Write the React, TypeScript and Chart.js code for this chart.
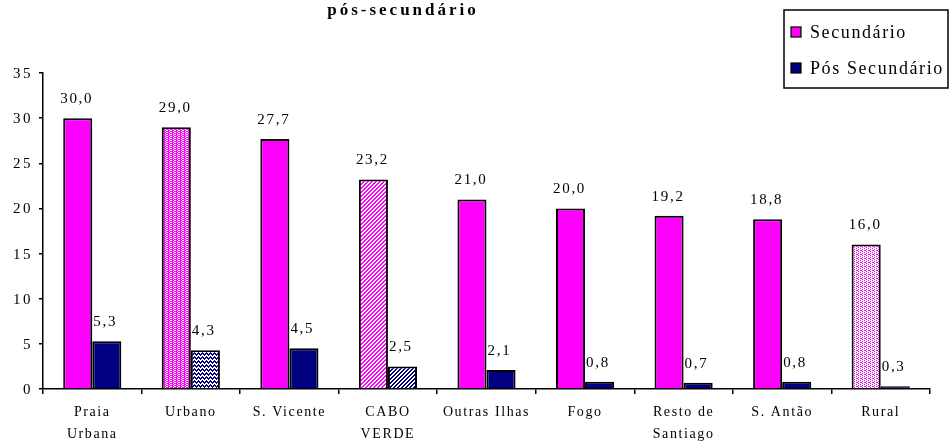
import React, { useEffect, useRef } from "react";
import { Chart, registerables } from "chart.js";

Chart.register(...registerables);

const titleText = "pós-secundário";
const categories: (string | string[])[] = [
  ["Praia", "Urbana"],
  "Urbano",
  "S. Vicente",
  ["CABO", "VERDE"],
  "Outras Ilhas",
  "Fogo",
  ["Resto de", "Santiago"],
  "S. Antão",
  "Rural",
];
const secundario = [30.0, 29.0, 27.7, 23.2, 21.0, 20.0, 19.2, 18.8, 16.0];
const posSecundario = [5.3, 4.3, 4.5, 2.5, 2.1, 0.8, 0.7, 0.8, 0.3];
const seriesNames = ["Secundário", "Pós Secundário"];
const yTicks = [0, 5, 10, 15, 20, 25, 30, 35];
// fill style per bar: "solid" | "dots" | "speckle" | "wave" | "diag"
const pinkFills = ["solid", "dots", "solid", "diag", "solid", "solid", "solid", "solid", "speckle"];
const navyFills = ["solid", "wave", "solid", "diag", "solid", "solid", "solid", "solid", "solid"];

const PINK = "#FF00FF";
const NAVY = "#000080";
const FONT = "'Liberation Serif', 'Times New Roman', serif";

function makePattern(kind: string, color: string): CanvasPattern | string {
  if (kind === "solid") return color;
  const c = document.createElement("canvas");
  const size = 4;
  c.width = size;
  c.height = size;
  const g = c.getContext("2d")!;
  g.fillStyle = "#ffffff";
  g.fillRect(0, 0, size, size);
  g.fillStyle = color;
  for (let y = 0; y < size; y++) {
    for (let x = 0; x < size; x++) {
      let on = false;
      if (kind === "diag") on = (x + y) % 4 < 2;
      else if (kind === "dots") on = y % 2 === 0 ? x !== 3 && x !== 2 : x !== 1 && x !== 0 ? true : x === 0;
      else if (kind === "speckle") on = (x + 2 * y) % 4 === 0 || (x === 1 && y === 2);
      else if (kind === "wave") {
        const h = Math.abs((x % 4) - 2);
        on = y === h || y === h + 1;
      }
      if (on) g.fillRect(x, y, 1, 1);
    }
  }
  const p = document.createElement("canvas").getContext("2d")!.createPattern(c, "repeat");
  return p || color;
}

const fmt = (v: number) => v.toFixed(1).replace(".", ",");

export default function App() {
  const ref = useRef<HTMLCanvasElement>(null);

  useEffect(() => {
    if (!ref.current) return;

    const spacingPlugin = {
      id: "spacing",
      beforeLayout(chart: any) {
        chart.ctx.letterSpacing = "1.6px";
      },
      beforeDraw(chart: any) {
        chart.ctx.letterSpacing = "1.6px";
      },
    };

    const decorPlugin = {
      id: "decor",
      afterDatasetsDraw(chart: any) {
        const ctx = chart.ctx;
        ctx.save();
        ctx.letterSpacing = "1.7px";
        ctx.fillStyle = "#000";
        ctx.font = `15px ${FONT}`;
        ctx.textBaseline = "middle";
        chart.data.datasets.forEach((ds: any, di: number) => {
          const meta = chart.getDatasetMeta(di);
          meta.data.forEach((bar: any, i: number) => {
            const txt = fmt(ds.data[i]);
            if (di === 0) {
              ctx.textAlign = "center";
              ctx.fillText(txt, bar.x - 1, bar.y - 19);
            } else {
              ctx.textAlign = "left";
              ctx.fillText(txt, bar.x - bar.width / 2 + 1, bar.y - 19);
            }
          });
        });
        // y tick labels
        const ys = chart.scales.y;
        ctx.font = `15px ${FONT}`;
        ctx.letterSpacing = "2.5px";
        ctx.textAlign = "right";
        yTicks.forEach((v) => {
          ctx.fillText(String(v), 33, ys.getPixelForValue(v) + 1);
        });
        ctx.restore();
      },
      afterDraw(chart: any) {
        const ctx = chart.ctx;
        ctx.save();
        // title
        ctx.letterSpacing = "3px";
        ctx.fillStyle = "#000";
        ctx.font = `bold 17px ${FONT}`;
        ctx.textAlign = "center";
        ctx.textBaseline = "middle";
        ctx.fillText(titleText, 403, 11);
        // legend
        const lx = 784, ly = 10, lw = 164, lh = 78;
        ctx.fillStyle = "#fff";
        ctx.fillRect(lx, ly, lw, lh);
        ctx.lineWidth = 1.5;
        ctx.strokeStyle = "#000";
        ctx.strokeRect(lx, ly, lw, lh);
        ctx.font = `18px ${FONT}`;
        ctx.letterSpacing = "1.6px";
        ctx.textAlign = "left";
        chart.data.datasets.forEach((ds: any, di: number) => {
          const cy = 32 + di * 36;
          ctx.fillStyle = di === 0 ? PINK : NAVY;
          ctx.fillRect(791, cy - 5, 10, 10);
          ctx.lineWidth = 1.2;
          ctx.strokeRect(791, cy - 5, 10, 10);
          ctx.fillStyle = "#000";
          ctx.fillText(ds.label, 810, cy + 1);
        });
        ctx.restore();
      },
    };

    const chart = new Chart(ref.current, {
      type: "bar",
      data: {
        labels: categories,
        datasets: [
          {
            label: seriesNames[0],
            data: secundario,
            backgroundColor: pinkFills.map((k) => makePattern(k, PINK)) as any,
            borderColor: "#000",
            borderWidth: 2,
            borderSkipped: "bottom",
          },
          {
            label: seriesNames[1],
            data: posSecundario,
            backgroundColor: navyFills.map((k) => makePattern(k, NAVY)) as any,
            borderColor: "#000",
            borderWidth: 2,
            borderSkipped: "bottom",
          },
        ],
      },
      options: {
        animation: false,
        responsive: false,
        maintainAspectRatio: false,
        events: [],
        layout: { padding: { top: 73, right: 20, left: 0, bottom: 0 } },
        datasets: { bar: { categoryPercentage: 0.59, barPercentage: 1 } },
        plugins: {
          legend: { display: false },
          title: { display: false },
          tooltip: { enabled: false },
        },
        scales: {
          x: {
            grid: {
              display: true,
              drawOnChartArea: false,
              drawTicks: true,
              tickLength: 5,
              color: "#000",
              lineWidth: 1.5,
              offset: true,
            },
            border: { display: true, color: "#000", width: 1.5 },
            ticks: {
              color: "#000",
              font: { family: FONT, size: 14, lineHeight: 1.57 },
              padding: 7,
              maxRotation: 0,
              autoSkip: false,
            },
            afterFit(scale: any) {
              scale.height = 52;
            },
          },
          y: {
            min: 0,
            max: 35,
            afterBuildTicks(scale: any) {
              scale.ticks = yTicks.map((v) => ({ value: v }));
            },
            grid: {
              display: true,
              drawOnChartArea: false,
              drawTicks: true,
              tickLength: 4,
              color: "#000",
              lineWidth: 1.5,
            },
            border: { display: true, color: "#000", width: 1.5 },
            ticks: { display: false },
            afterFit(scale: any) {
              scale.width = 43;
            },
          },
        },
      },
      plugins: [spacingPlugin, decorPlugin],
    });

    return () => chart.destroy();
  }, []);

  return (
    <div style={{ position: "fixed", left: 0, top: 0, width: 950, height: 441, background: "#fff" }}>
      <canvas ref={ref} width={950} height={441} style={{ width: 950, height: 441, display: "block" }} />
    </div>
  );
}
